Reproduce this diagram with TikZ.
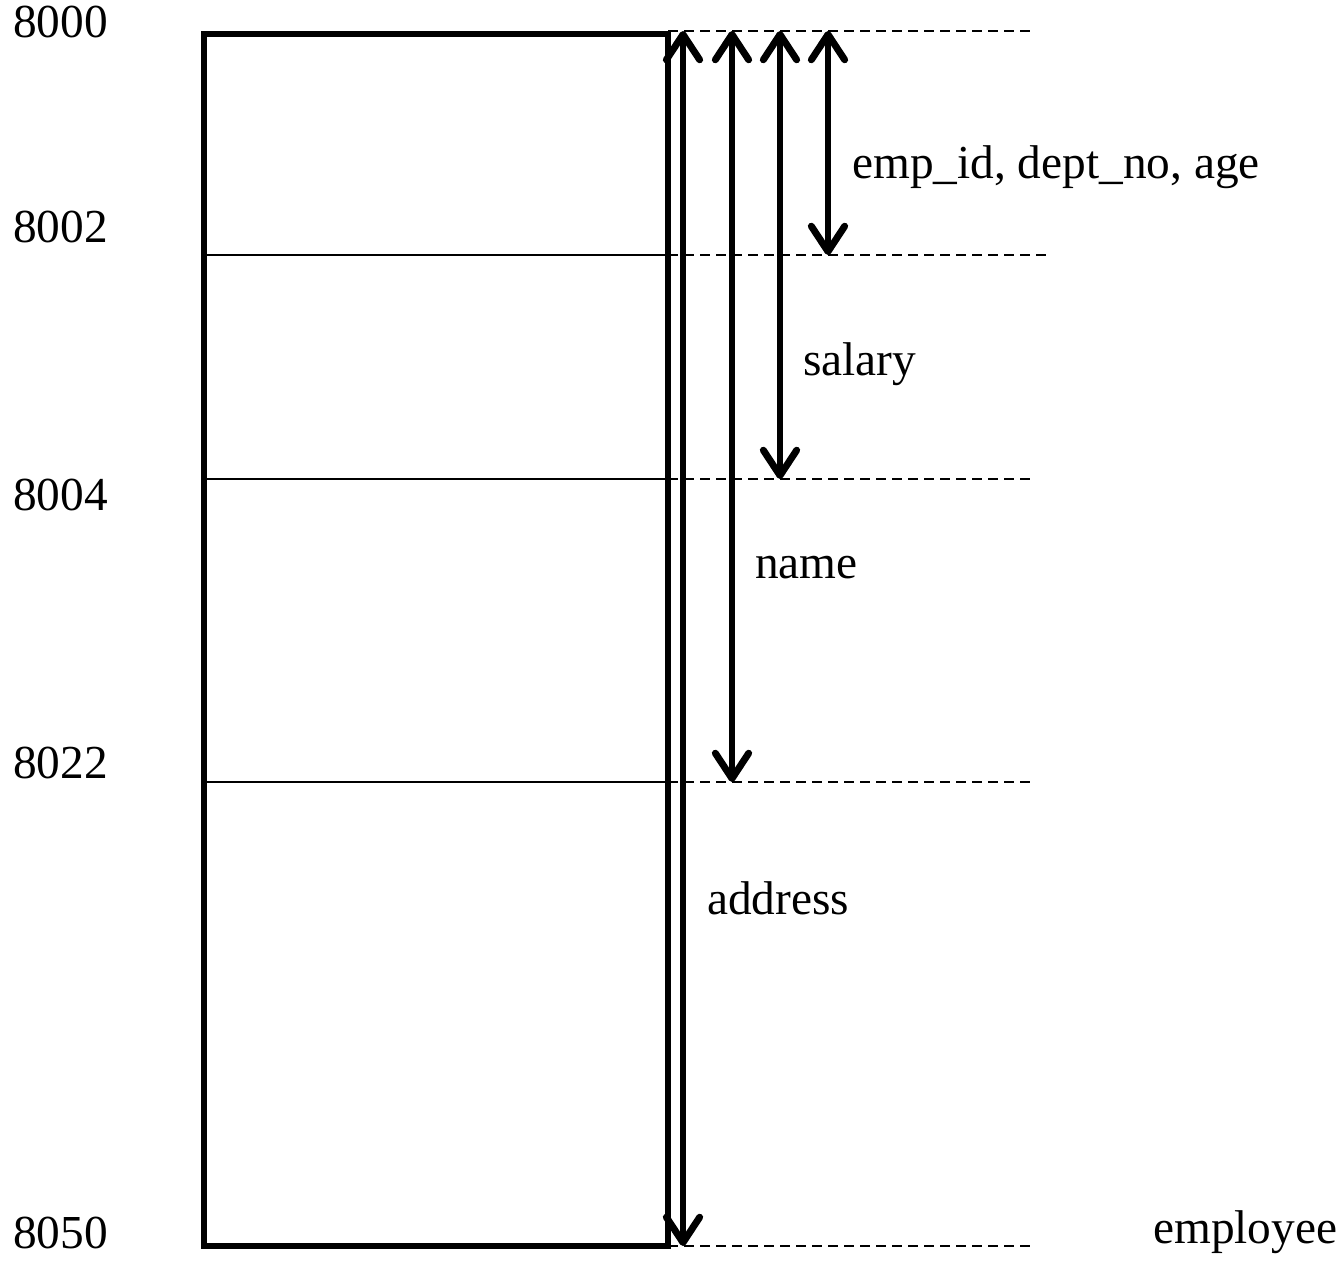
\documentclass[tikz,border=0pt]{standalone}
\usepackage{fontspec}
\setmainfont{Liberation Serif}
\usetikzlibrary{arrows.meta}
\begin{document}
\begin{tikzpicture}[x=0.75pt,y=-0.75pt,
  box/.style={line width=4pt},
  divider/.style={line width=2pt},
  guide/.style={line width=2pt, dash pattern=on 7.5pt off 4.5pt},
  dimarrow/.style={line width=5.2pt,
    {Straight Barb[length=19pt,width=25pt,round]}-{Straight Barb[length=19pt,width=25pt,round]}},
  lbl/.style={anchor=base west, inner sep=0pt, font=\fontsize{35.5}{40}\selectfont}]
\useasboundingbox (0,0) rectangle (1341,1263);

% rectangle corners and divider levels
\coordinate (rtl) at (204,34);
\coordinate (rbr) at (668,1246);
\coordinate (l1) at (204,255);
\coordinate (r1) at (668,255);
\coordinate (l2) at (204,479);
\coordinate (r2) at (668,479);
\coordinate (l3) at (204,782);
\coordinate (r3) at (668,782);

% guide line ends
\coordinate (g0s) at (668,31);   \coordinate (g0e) at (1033,31);
\coordinate (g1e) at (1050,255);
\coordinate (g2e) at (1033,479);
\coordinate (g3e) at (1033,782);
\coordinate (g4s) at (668,1246); \coordinate (g4e) at (1033,1246);

% arrow ends
\coordinate (a1t) at (683,31);  \coordinate (a1b) at (683,1246);
\coordinate (a2t) at (732,31);  \coordinate (a2b) at (732,782);
\coordinate (a3t) at (780,31);  \coordinate (a3b) at (780,479);
\coordinate (a4t) at (828,31);  \coordinate (a4b) at (828,255);

% dashed guides
\draw[guide] (g0s) -- (g0e);
\draw[guide] (r1) -- (g1e);
\draw[guide] (r2) -- (g2e);
\draw[guide] (r3) -- (g3e);
\draw[guide] (g4s) -- (g4e);

% memory block
\draw[divider] (l1) -- (r1);
\draw[divider] (l2) -- (r2);
\draw[divider] (l3) -- (r3);
\draw[box] (rtl) rectangle (rbr);

% size arrows
\draw[dimarrow] (a1t) -- (a1b);
\draw[dimarrow] (a2t) -- (a2b);
\draw[dimarrow] (a3t) -- (a3b);
\draw[dimarrow] (a4t) -- (a4b);

% addresses
\node[lbl] (n8000) at (13,38) {8000};
\node[lbl] (n8002) at (13,242) {8002};
\node[lbl] (n8004) at (13,510) {8004};
\node[lbl] (n8022) at (13,778) {8022};
\node[lbl] (n8050) at (13,1248) {8050};

% field names
\node[lbl] (f1) at (852,178) {emp\_id, dept\_no, age};
\node[lbl] (f2) at (803,375) {salary};
\node[lbl] (f3) at (755,578) {name};
\node[lbl] (f4) at (707,914) {address};
\node[lbl] (f5) at (1153,1243) {employee};
\end{tikzpicture}
\end{document}
